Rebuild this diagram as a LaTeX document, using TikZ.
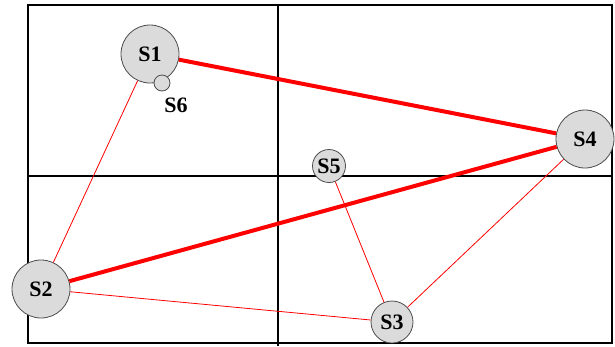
\documentclass[tikz,border=0pt]{standalone}
\usepackage{fontspec}
\setmainfont{Liberation Serif}
\begin{document}
\begin{tikzpicture}[x=1pt,y=-1pt,
  frame/.style={draw=black,line width=1.8pt},
  grid/.style={draw=black,line width=1.1pt},
  lab/.style={font=\fontsize{22}{22}\selectfont\bfseries},
  st/.style={circle,draw=black!70,line width=0.8pt,fill=black!14,inner sep=0pt,lab},
  big/.style={st,minimum size=58pt},
  heavy/.style={draw=red,line width=4pt},
  light/.style={draw=red,line width=0.8pt}]
\useasboundingbox (0,0) rectangle (615,346);
\draw[frame] (28,5) rectangle (612,343);
\draw[grid] (278,5) -- (278,346);
\draw[grid] (28,176) -- (612,176);
\node[big] (s1) at (150,54) {S1};
\node[st,minimum size=16pt] (s6) at (162,83) {};
\node[lab] (l6) at (176,105) {S6};
\node[big] (s4) at (585,139) {S4};
\node[st,minimum size=33pt] (s5) at (329,166) {S5};
\node[big] (s2) at (41,289) {S2};
\node[st,minimum size=42pt] (s3) at (392,322) {S3};
\draw[heavy] (s1) -- (s4);
\draw[heavy] (s2) -- (s4);
\draw[light] (s1) -- (s2);
\draw[light] (s2) -- (s3);
\draw[light] (s5) -- (s3);
\draw[light] (s3) -- (s4);
\end{tikzpicture}
\end{document}
